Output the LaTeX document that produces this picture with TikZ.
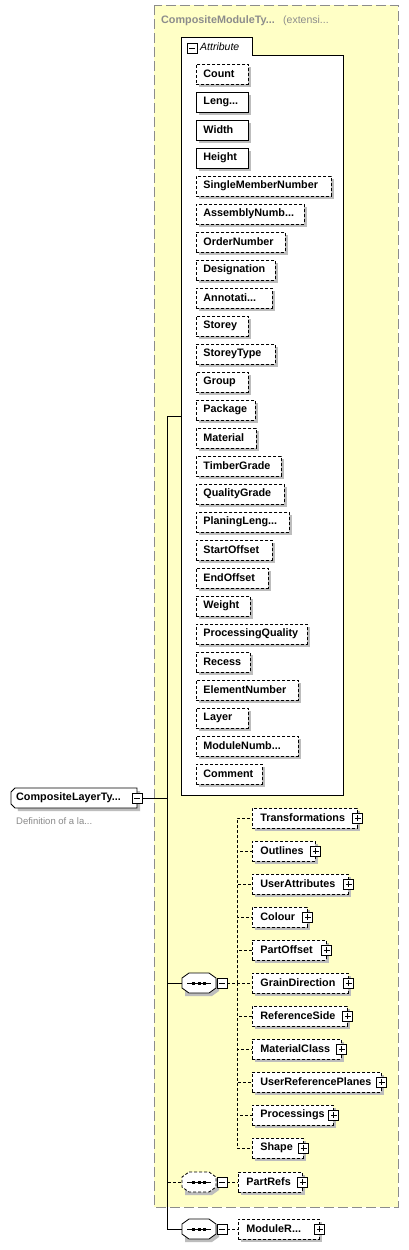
\documentclass[tikz,border=0pt]{standalone}
\usepackage{fontspec}
\setmainfont{Liberation Sans}
\definecolor{panelfill}{HTML}{FFFFC6}
\definecolor{panelline}{HTML}{8C8C8C}
\definecolor{shadowgray}{HTML}{BDBDBD}
\definecolor{hintgray}{HTML}{8A8A8A}
\newcommand\tdots{...}
\tikzset{
  dsh/.style={dash pattern=on 3pt off 2pt},
  wire/.style={line width=0.8pt},
  shd/.style={fill=shadowgray},
  item/.style={draw, fill=white, anchor=west, minimum height=20pt, inner xsep=7pt, inner ysep=0pt, align=left, line width=0.8pt},
  child/.style={item, dsh, inner xsep=8pt},
  pm/.style={draw, fill=white, minimum size=10pt, inner sep=0pt, line width=0.7pt, solid},
  minusbox/.style={pm, path picture={
    \draw ([xshift=2pt]path picture bounding box.west) -- ([xshift=-2pt]path picture bounding box.east);}},
  plusbox/.style={pm, path picture={
    \draw ([xshift=2pt]path picture bounding box.west) -- ([xshift=-2pt]path picture bounding box.east);
    \draw ([yshift=-2pt]path picture bounding box.north) -- ([yshift=2pt]path picture bounding box.south);}},
  seqnode/.style={minimum width=34pt, minimum height=20pt, inner sep=0pt},
  pics/seqsym/.style={code={
    \fill[shadowgray] (-14,-7) -- (13,-7) -- (20,-2) -- (20,8) -- (13,13) -- (-14,13) -- (-14,8) -- cycle;
    \draw[wire, fill=white, #1] (-10,-10) -- (10,-10) -- (17,-5) -- (17,5) -- (10,10) -- (-10,10) -- (-17,5) -- (-17,-5) -- cycle;
    \draw[wire] (-12,0) -- (12,0);
    \foreach \d in {-5.5,0,5.5} \fill (\d-1.5,-1.5) rectangle (\d+1.5,1.5);
  }},
  pics/elshape/.style={code={
    \fill[shadowgray] (-59,-7) -- (66,-7) -- (66,13) -- (-56,13) -- cycle;
    \draw[wire, fill=white] (-59,-10) -- (63,-10) -- (63,10) -- (-59,10) -- (-63,6) -- (-63,-6) -- cycle;
  }}
}
\begin{document}
\begin{tikzpicture}[x=1pt, y=-1pt, font=\fontsize{10.8}{12}\selectfont\bfseries]
  \useasboundingbox (0,0) rectangle (408,1250);
  \fill[white] (0,0) rectangle (408,1250);
  \draw[panelline, fill=panelfill, line width=0.9pt, dash pattern=on 10pt off 4pt] (154,5) rectangle (398,1207);
  \node[anchor=west, inner sep=0pt, text=panelline] (ttl) at (161,21) {CompositeModuleTy\tdots};
  \node[anchor=west, inner sep=0pt, text=panelline, font=\fontsize{10.5}{12}\selectfont] (ext) at (283,21) {(extensi\tdots};

  \draw[wire, fill=white] (181,37) -- (252,37) -- (252,55) -- (343,55) -- (343,795) -- (181,795) -- cycle;
  \node[minusbox] (tabm) at (192,48) {};
  \node[anchor=west, inner sep=0pt, font=\fontsize{10.5}{12}\selectfont\itshape] (tab) at (200,47) {Attribute};
  \coordinate (attrin) at (181,416);

  \foreach \nm/\w/\bd [count=\i] in {Count/52/dsh, Leng\tdots/52/solid, Width/52/solid, Height/52/solid,
      SingleMemberNumber/135/dsh, AssemblyNumb\tdots/108/dsh, OrderNumber/89/dsh, Designation/79/dsh,
      Annotati\tdots/76/dsh, Storey/52/dsh, StoreyType/79/dsh, Group/52/dsh, Package/59/dsh,
      Material/60/dsh, TimberGrade/85/dsh, QualityGrade/88/dsh, PlaningLeng\tdots/93/dsh,
      StartOffset/76/dsh, EndOffset/72/dsh, Weight/54/dsh, ProcessingQuality/111/dsh,
      Recess/54/dsh, ElementNumber/102/dsh, Layer/52/dsh, ModuleNumb\tdots/102/dsh, Comment/66/dsh}{
    \pgfmathsetmacro\tw{\w-14}
    \fill[shd] (199,39+28*\i) rectangle ++(\w,20);
    \node[item, \bd, text width=\tw pt] (at\i) at (196,46+28*\i) {\nm};
  }

  \node[seqnode] (seq) at (199,983) {};
  \pic at (seq) {seqsym=solid};
  \node[minusbox] (seqm) at (222,983) {};
  \coordinate (sp) at (237,983);
  \draw[wire, dsh] (seqm) -- (sp);
  \foreach \nm/\w [count=\i] in {Transformations/105, Outlines/63, UserAttributes/96, Colour/55,
      PartOffset/74, GrainDirection/96, ReferenceSide/95, MaterialClass/89,
      UserReferencePlanes/129, Processings/81, Shape/51}{
    \pgfmathsetmacro\tw{\w-16}
    \draw[wire, dsh] (sp) |- (252,785+33*\i);
    \fill[shd] (255,778+33*\i) rectangle ++(\w,20);
    \node[child, text width=\tw pt] (ch\i) at (252,785+33*\i) {\nm};
    \node[plusbox] (chp\i) at (ch\i.east) {};
  }

  \node[seqnode] (opt) at (199,1182) {};
  \pic at (opt) {seqsym=dsh};
  \node[minusbox] (optm) at (222,1182) {};
  \fill[shd] (241,1175) rectangle ++(64,20);
  \node[child, text width=48pt] (prf) at (238,1182) {PartRefs};
  \node[plusbox] (prfp) at (prf.east) {};
  \draw[wire, dsh] (optm) -- (prf);

  \node[seqnode] (seq3) at (199,1229) {};
  \pic at (seq3) {seqsym=solid};
  \node[minusbox] (seq3m) at (222,1229) {};
  \fill[shd] (241,1222) rectangle ++(81,20);
  \node[child, text width=65pt] (mrf) at (238,1229) {ModuleR\tdots};
  \node[plusbox] (mrfp) at (mrf.east) {};
  \draw[wire, dsh] (seq3m) -- (mrf);

  \pic at (74,798) {elshape};
  \node[anchor=west, inner sep=0pt] (el) at (16,798) {CompositeLayerTy\tdots};
  \node[minusbox] (elm) at (137,798) {};
  \node[anchor=west, inner sep=0pt, text=hintgray, font=\fontsize{9.5}{11}\selectfont] (def) at (16,821) {Definition of a la\tdots};

  \coordinate (hub) at (167,798);
  \draw[wire] (elm) -- (hub);
  \draw[wire] (hub) |- (attrin);
  \draw[wire] (hub) |- (seq.west);
  \draw[wire, dsh] (hub) |- (opt.west);
  \draw[wire] (hub) |- (seq3.west);
\end{tikzpicture}
\end{document}
